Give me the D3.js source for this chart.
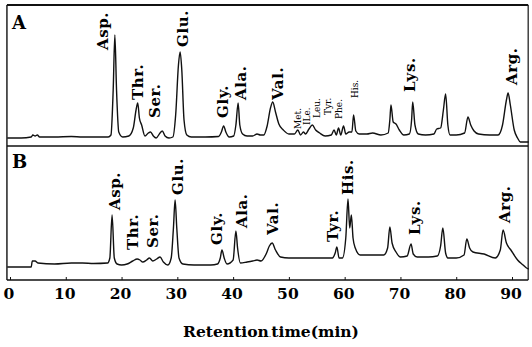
<!DOCTYPE html>
<html>
<head>
<meta charset="utf-8">
<script src="https://cdn.jsdelivr.net/npm/d3@7"></script>
<style>
  body { margin: 0; background: #fff; }
  svg { display: block; }
</style>
</head>
<body>
<div id="chart"></div>
<script>
// trace A (retention time in min, detector signal)
const timeA = [-0.5, 2, 3.8, 4.1, 4.5, 4.9, 5.3, 8, 11, 13, 16, 17.6, 18.1, 18.5, 18.8, 19.1, 19.5, 20.2, 21.3, 22.1, 22.6, 22.9, 23.2, 23.6, 24.2, 24.8, 25.2, 25.7, 26.2, 26.9, 27.3, 27.8, 28.5, 29.2, 29.7, 30.2, 30.5, 30.8, 31.2, 31.7, 32.5, 35, 37.4, 37.9, 38.3, 38.7, 39.3, 40.1, 40.5, 40.9, 41.2, 41.7, 42.5, 43.5, 44.3, 44.9, 45.5, 46.1, 46.7, 47.1, 47.6, 48.2, 49, 50, 51, 51.6, 52.1, 52.6, 53, 53.6, 54.2, 54.8, 55.5, 56.5, 57.6, 58.1, 58.5, 58.9, 59.3, 59.8, 60.2, 60.8, 61.3, 61.6, 62, 62.6, 64, 65, 66.5, 67.8, 68.1, 68.3, 68.7, 69.2, 69.8, 70.6, 71.6, 72, 72.2, 72.6, 73.2, 74.5, 76, 76.5, 77.2, 77.7, 78.1, 78.5, 78.9, 80, 81.5, 82.1, 82.6, 83.2, 84, 86, 87.5, 88.3, 89, 89.3, 89.7, 90.4, 91, 91.5, 93];
const signalA = [2, 2, 3, 5, 4, 5, 3, 3, 3.5, 3, 3, 3, 5, 50, 105, 50, 8, 3, 4, 12, 30, 37, 22, 15, 4, 7, 8, 4, 2, 7, 9, 4, 2, 3, 25, 75, 88, 70, 20, 5, 3, 3, 3.5, 8, 14, 8, 3, 4, 15, 37, 15, 6, 4, 4, 6, 5, 5, 14, 32, 38, 28, 16, 10, 6, 6, 10, 5, 8, 6, 11, 15, 10, 7, 4, 5, 10, 5, 12, 5, 14, 6, 8, 8, 25, 9, 6, 6, 7, 5, 7, 20, 35, 18, 16, 10, 5, 6, 20, 38, 15, 6, 5, 6, 11, 12, 30, 46, 15, 5, 5, 7, 23, 15, 9, 6, 5, 5, 15, 40, 47, 35, 10, 2, -2, -2];

// trace B
const timeB = [-0.5, 2, 3.8, 4.0, 4.5, 5, 8, 11, 13, 15, 17.5, 17.9, 18.3, 18.7, 19.2, 20, 21, 22, 22.8, 23.3, 23.8, 24.5, 25, 25.6, 26.3, 26.9, 27.5, 28.3, 28.9, 29.3, 29.6, 29.9, 30.3, 31, 33, 36, 37.2, 37.7, 38, 38.4, 38.9, 40, 40.5, 40.8, 41.3, 42.5, 43.5, 44.3, 45, 46, 46.5, 47, 47.6, 48.5, 50, 53, 56, 57.8, 58.3, 58.6, 59, 59.6, 60.2, 60.6, 60.9, 61.2, 61.5, 61.9, 62.8, 65, 67, 67.7, 68.1, 68.5, 69.2, 70, 71.2, 71.9, 72.3, 73, 75, 76.6, 77.2, 77.6, 78.1, 78.5, 80, 81.4, 81.9, 82.4, 83, 85, 87, 87.9, 88.4, 89, 89.8, 91, 92, 92.6, 93];
const signalB = [1, 1, 1, 7, 7, 5, 4, 5, 5, 4.5, 5, 10, 53, 10, 4, 3, 4, 7, 9, 8, 6, 8, 10, 7, 9, 11, 6, 3, 10, 40, 68, 40, 10, 4, 3, 3, 4, 10, 18, 10, 4, 8, 37, 20, 5, 6, 7, 8, 7, 15, 22, 25, 18, 11, 10, 10, 10, 10, 15, 21, 10, 10, 30, 69, 40, 53, 30, 20, 13, 13, 13, 20, 41, 25, 16, 11, 12, 24, 14, 11, 11, 12, 22, 40, 15, 10, 10, 13, 29, 20, 16, 14, 10, 18, 38, 25, 18, 8, 3, 0, -1];

// peak labels: name, time, signal level of the label foot
const labelsA = [["Asp.", 16.6, 90], ["Thr.", 22.9, 40], ["Ser.", 26.0, 22], ["Glu.", 31.0, 93], ["Gly.", 38.2, 22], ["Ala.", 41.3, 40], ["Val.", 47.9, 40], ["Lys.", 71.7, 48], ["Arg.", 90.0, 55]];
const smallLabelsA = [["Met.", 51.6, 11], ["ILe.", 53.2, 15], ["Leu.", 55.0, 22], ["Tyr.", 56.9, 25], ["Phe.", 59.0, 21], ["His.", 61.8, 42]];
const labelsB = [["Asp.", 18.8, 58], ["Thr.", 21.9, 18], ["Ser.", 25.6, 20], ["Glu.", 30.1, 73], ["Gly.", 37.1, 23], ["Ala.", 41.6, 40], ["Val.", 47.0, 33], ["Tyr.", 57.9, 26], ["His.", 60.6, 73], ["Lys.", 72.6, 33], ["Arg.", 88.7, 45]];

const tickValues = [0, 10, 20, 30, 40, 50, 60, 70, 80, 90];
const xTitle = ["Retention", ".", "time(min)"];

const width = 532, height = 347;
const serif = "'DejaVu Serif', serif";

const svg = d3.select("#chart")
  .append("svg")
  .attr("width", width)
  .attr("height", height);

const x = d3.scaleLinear().domain([0, 90]).range([10, 512]);
const yA = d3.scaleLinear().domain([0, 100]).range([140, 40]);
const yB = d3.scaleLinear().domain([0, 100]).range([268, 168]);

const frameLeft = x(-0.55), frameRight = x(92.9);
const frameTop = 5, frameMid = 146, frameBottom = 280;

// frame
const frame = svg.append("g").attr("stroke", "#111").attr("fill", "none");
frame.append("line").attr("x1", frameLeft).attr("x2", frameRight).attr("y1", frameTop).attr("y2", frameTop).attr("stroke-width", 2);
frame.append("line").attr("x1", frameLeft).attr("x2", frameRight).attr("y1", frameMid).attr("y2", frameMid).attr("stroke-width", 1.6);
frame.append("line").attr("x1", frameLeft).attr("x2", frameLeft).attr("y1", frameTop).attr("y2", frameBottom).attr("stroke-width", 1.4);
frame.append("line").attr("x1", frameRight).attr("x2", frameRight).attr("y1", frameTop).attr("y2", frameBottom).attr("stroke-width", 1.2);

// bottom axis
const axis = svg.append("g")
  .attr("transform", "translate(0," + frameBottom + ")")
  .call(d3.axisTop(x).tickValues(tickValues).tickSize(3).tickFormat(""));
axis.select(".domain").remove();
axis.append("line").attr("x1", frameLeft).attr("x2", frameRight).attr("stroke", "#111").attr("stroke-width", 1.6);
axis.selectAll(".tick line").attr("stroke", "#111").attr("stroke-width", 1);

svg.append("g")
  .selectAll("text")
  .data(tickValues)
  .enter()
  .append("text")
  .attr("x", d => x(d) - 1)
  .attr("y", 299)
  .attr("text-anchor", "middle")
  .style("font-family", serif)
  .style("font-weight", "bold")
  .style("font-size", "15.5px")
  .text(d => d);

const title = svg.append("text")
  .attr("x", 271)
  .attr("y", 337)
  .attr("text-anchor", "middle")
  .style("font-family", serif)
  .style("font-weight", "bold")
  .style("font-size", "15.5px");
title.append("tspan").text(xTitle[0]);
title.append("tspan").style("font-size", "8px").style("font-weight", "normal").text(xTitle[1]);
title.append("tspan").text(xTitle[2]);

// traces
const line = (yScale) => d3.line()
  .x(d => x(d[0]))
  .y(d => yScale(d[1]))
  .curve(d3.curveMonotoneX);

svg.append("path")
  .datum(d3.zip(timeA, signalA))
  .attr("d", line(yA))
  .attr("fill", "none")
  .attr("stroke", "#111")
  .attr("stroke-width", 1.4);

svg.append("path")
  .datum(d3.zip(timeB, signalB))
  .attr("d", line(yB))
  .attr("fill", "none")
  .attr("stroke", "#111")
  .attr("stroke-width", 1.4);

// rotated peak labels
function addLabels(list, yScale, size, weight, spacing) {
  svg.append("g")
    .selectAll("text")
    .data(list)
    .enter()
    .append("text")
    .attr("transform", d => "translate(" + x(d[1]) + "," + yScale(d[2]) + ") rotate(-90)")
    .attr("dy", "0.36em")
    .style("font-family", serif)
    .style("font-weight", weight)
    .style("font-size", size)
    .style("letter-spacing", spacing)
    .text(d => d[0]);
}
addLabels(labelsA, yA, "15px", "bold", "0.6px");
addLabels(smallLabelsA, yA, "9px", "normal", "0px");
addLabels(labelsB, yB, "15px", "bold", "0.6px");

// panel letters
svg.append("text").attr("x", 12).attr("y", 29)
  .style("font-family", serif).style("font-weight", "bold").style("font-size", "18px").text("A");
svg.append("text").attr("x", 12).attr("y", 168)
  .style("font-family", serif).style("font-weight", "bold").style("font-size", "18px").text("B");
</script>
</body>
</html>
